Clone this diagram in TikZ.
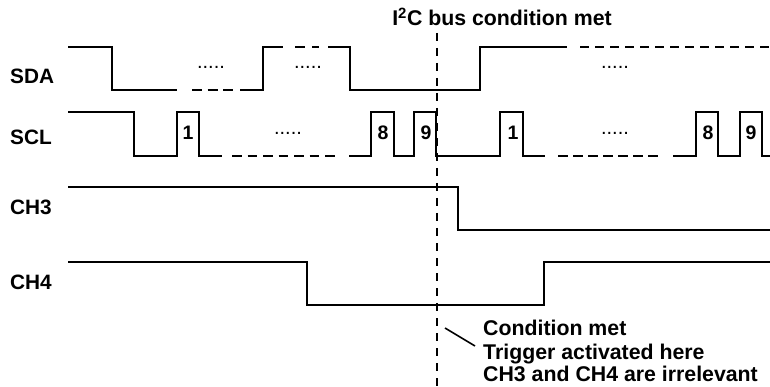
\documentclass[tikz,border=0pt]{standalone}
\usepackage{fontspec}
\setmainfont{Liberation Sans}
\begin{document}
\begin{tikzpicture}[x=1pt,y=-1pt,
  sig/.style={line width=2.2pt, line join=miter, line cap=butt},
  dsh/.style={line width=2.2pt, dash pattern=on 9pt off 6pt},
  lbl/.style={font=\bfseries\fontsize{20.8}{24}\selectfont, inner sep=0pt},
  big/.style={font=\bfseries\fontsize{21.3}{24}\selectfont, inner sep=0pt},
  dig/.style={font=\bfseries\fontsize{19.5}{24}\selectfont, inner sep=0pt},
  dots/.style={font=\fontsize{20}{24}\selectfont, inner sep=0pt, anchor=base}]
\useasboundingbox (0,0) rectangle (770,387);

% labels
\node[lbl, anchor=west] (sda) at (10,76) {SDA};
\node[lbl, anchor=west] (scl) at (10,137) {SCL};
\node[lbl, anchor=west] (ch3) at (10,207) {CH3};
\node[lbl, anchor=west] (ch4) at (10,282) {CH4};
\node[big, anchor=base] (title) at (502,26) {I\textsuperscript{2}C bus condition met};

% SDA
\draw[sig] (68,47) -- (112,47) -- (112,90) -- (177,90);
\draw[dsh, dash pattern=on 10pt off 5.5pt] (192,90) -- (234,90);
\draw[sig] (240,90) -- (263,90) -- (263,47) -- (283,47);
\draw[sig] (295,47) -- (305,47);
\draw[sig] (312,47) -- (319,47);
\draw[sig] (328,47) -- (350,47) -- (350,90) -- (480,90) -- (480,47) -- (567,47);
\draw[dsh] (580,47) -- (772,47);

% SCL
\draw[sig] (68,112) -- (134,112) -- (134,156) -- (177,156) -- (177,112) -- (199,112) -- (199,156) -- (222,156);
\draw[dsh, dash pattern=on 9.5pt off 6pt] (232,156) -- (338,156);
\draw[sig] (349,156) -- (371,156) -- (371,112) -- (394,112) -- (394,156) -- (414,156) -- (414,112) -- (436,112) -- (436,156) -- (500,156) -- (500,112) -- (523,112) -- (523,156) -- (545,156);
\draw[dsh, dash pattern=on 9.5pt off 5.5pt] (558,156) -- (662,156);
\draw[sig] (673,156) -- (696,156) -- (696,112) -- (718,112) -- (718,156) -- (740,156) -- (740,112) -- (762,112) -- (762,156) -- (772,156);

% CH3, CH4
\draw[sig] (68,187) -- (458,187) -- (458,230) -- (772,230);
\draw[sig] (68,262) -- (307,262) -- (307,305) -- (544,305) -- (544,262) -- (772,262);

% pulse numbers
\node[dig] (n1a) at (188,133) {1};
\node[dig] (n8a) at (383,133) {8};
\node[dig] (n9a) at (426,133) {9};
\node[dig] (n1b) at (513,133) {1};
\node[dig] (n8b) at (708,133) {8};
\node[dig] (n9b) at (751,133) {9};

% dots
\node[dots] (d1) at (211,69) {.....};
\node[dots] (d2) at (308,69) {.....};
\node[dots] (d3) at (615,69) {.....};
\node[dots] (d4) at (288,135) {.....};
\node[dots] (d5) at (615,135) {.....};

% trigger line
\coordinate (vtop) at (437,33);
\coordinate (vbot) at (437,389);
\draw[line width=2pt, dash pattern=on 8pt off 7pt] (vtop) -- (vbot);

% annotation
\node[big, anchor=base west] (a1) at (483,335) {Condition met};
\node[big, anchor=base west] (a2) at (483,359) {Trigger activated here};
\node[big, anchor=base west] (a3) at (483,381) {CH3 and CH4 are irrelevant};
\coordinate (ls) at (445,328);
\coordinate (le) at (475,346);
\draw[line width=1.6pt] (ls) -- (le);
\end{tikzpicture}
\end{document}
